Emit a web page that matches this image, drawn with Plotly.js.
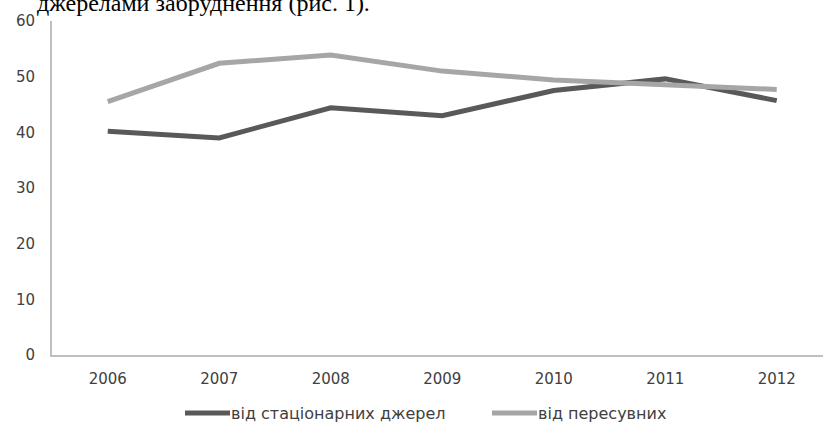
<!DOCTYPE html>
<html>
<head>
<meta charset="utf-8">
<script src="https://cdn.plot.ly/plotly-3.0.1.min.js"></script>
<style>html,body{margin:0;padding:0;background:#fff;overflow:hidden}#chart{width:823px;height:422px}</style>
</head>
<body>
<div id="chart"></div>
<script>
const years = ["2006", "2007", "2008", "2009", "2010", "2011", "2012"];
const stationary = [40.2, 39.0, 44.4, 43.0, 47.5, 49.6, 45.7];
const mobile = [45.5, 52.4, 53.9, 51.0, 49.4, 48.6, 47.7];
const seriesNames = ["від стаціонарних джерел", "від пересувних"];
const seriesColors = ["#595959", "#a6a6a6"];
const yTicks = [0, 10, 20, 30, 40, 50, 60];
const headerText = "джерелами забруднення (рис. 1).";

const traces = [
  {x: years, y: stationary, name: seriesNames[0], type: "scatter", mode: "lines",
   line: {color: seriesColors[0], width: 5}},
  {x: years, y: mobile, name: seriesNames[1], type: "scatter", mode: "lines",
   line: {color: seriesColors[1], width: 5}}
];

// custom legend (long line keys directly followed by text), as in the reference
const legendY = -0.174;
const legendKeys = [[0.1725, 0.2309], [0.5707, 0.6291]];
const shapes = legendKeys.map((k, i) => ({
  type: "line", xref: "paper", yref: "paper", x0: k[0], x1: k[1], y0: legendY, y1: legendY,
  line: {color: seriesColors[i], width: 5}
}));
const annotations = legendKeys.map((k, i) => ({
  text: seriesNames[i], xref: "paper", yref: "paper", x: k[1], y: legendY,
  xanchor: "left", yanchor: "middle", showarrow: false, borderpad: 0,
  font: {family: "DejaVu Sans", size: 16, color: "#404040"}
}));
annotations.push({text: headerText, xref: "paper", yref: "paper", x: -0.022, y: 1.009,
  xanchor: "left", yanchor: "bottom", showarrow: false,
  font: {family: "Liberation Serif", size: 24, color: "#000"}});

const layout = {
  width: 823, height: 422,
  margin: {l: 52, r: 0, t: 21, b: 67},
  paper_bgcolor: "#fff", plot_bgcolor: "#fff",
  showlegend: false,
  xaxis: {type: "category", range: [-0.5, 6.415], showgrid: false, zeroline: false,
    showline: true, linecolor: "#bfbfbf", linewidth: 2, ticks: "", ticklabelstandoff: 9,
    tickfont: {family: "DejaVu Sans", size: 15, color: "#404040"}, fixedrange: true},
  yaxis: {range: [0, 60], tickvals: yTicks, ticktext: yTicks.map(String), showgrid: false,
    zeroline: false, showline: true, linecolor: "#bfbfbf", linewidth: 2, ticks: "",
    ticklabelstandoff: 12,
    tickfont: {family: "DejaVu Sans", size: 15, color: "#404040"}, fixedrange: true},
  shapes: shapes,
  annotations: annotations
};

Plotly.newPlot("chart", traces, layout, {displayModeBar: false, staticPlot: true});
</script>
</body>
</html>
